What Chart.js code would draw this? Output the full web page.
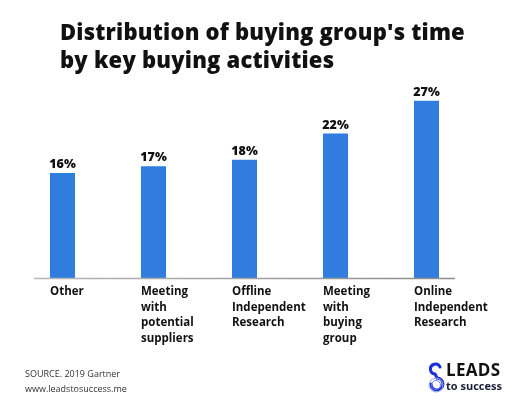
<!DOCTYPE html>
<html>
<head>
<meta charset="utf-8">
<script src="https://cdn.jsdelivr.net/npm/chart.js@4"></script>
<style>
  html, body { margin:0; padding:0; background:#fff; width:524px; height:410px; overflow:hidden; }
  #wrap { position:absolute; left:0; top:0; width:524px; height:410px; }
  #title { position:absolute; left:60px; top:17px; font-family:"Open Sans", sans-serif; font-weight:800; font-size:22px; line-height:28px; color:#111; letter-spacing:0.2px; white-space:nowrap; }
  .src { position:absolute; left:25px; font-family:"Open Sans", sans-serif; font-size:9px; color:#333; }
  #logo { position:absolute; left:427px; top:362px; width:80px; height:34px; }
  #logo .l1 { position:absolute; left:19px; top:-1px; font-family:"Open Sans", sans-serif; font-weight:700; font-size:17px; line-height:18px; color:#111; letter-spacing:0.3px; }
  #logo .l2 { position:absolute; left:19px; top:17px; font-family:"Open Sans", sans-serif; font-weight:700; font-size:11px; line-height:13px; color:#1a1f3a; }
</style>
</head>
<body>
<div id="wrap"><canvas id="c" width="524" height="410"></canvas></div>
<div id="title">Distribution of buying group's time<br>by key buying activities</div>
<div class="src" style="top:367px">SOURCE. 2019 Gartner</div>
<div class="src" style="top:382px">www.leadstosuccess.me</div>
<div id="logo">
  <svg width="18" height="32" viewBox="0 0 18 32" style="position:absolute;left:0;top:0">
    <path d="M13 5 A5 5 0 1 0 8 12 L10 16 A6 6 0 1 1 4 22" fill="none" stroke="#1a2fd6" stroke-width="3" stroke-linecap="round"/>
    <circle cx="9" cy="23" r="7" fill="none" stroke="#9aa6ef" stroke-width="1"/>
    <circle cx="9" cy="23" r="4.5" fill="none" stroke="#6f80ea" stroke-width="1"/>
  </svg>
  <div class="l1">LEADS</div>
  <div class="l2">to success</div>
</div>
<script>
const categories = [
  ["Other"],
  ["Meeting", "with", "potential", "suppliers"],
  ["Offline", "Independent", "Research"],
  ["Meeting", "with", "buying", "group"],
  ["Online", "Independent", "Research"]
];
const values = [16, 17, 18, 22, 27];
const valueLabels = ["16%", "17%", "18%", "22%", "27%"];

const customDraw = {
  id: 'customDraw',
  afterDatasetsDraw(chart) {
    const ctx = chart.ctx;
    const meta = chart.getDatasetMeta(0);
    const area = chart.chartArea;
    // axis line
    ctx.save();
    const grad = ctx.createLinearGradient(area.left, 0, area.right, 0);
    grad.addColorStop(0, '#b8b8b8');
    grad.addColorStop(1, '#8a8a8a');
    ctx.strokeStyle = grad;
    ctx.lineWidth = 1.5;
    ctx.beginPath();
    ctx.moveTo(area.left + 17, area.bottom + 0.5);
    ctx.lineTo(area.right - 17, area.bottom + 0.5);
    ctx.stroke();
    // value labels
    ctx.fillStyle = '#111';
    ctx.font = '800 12.5px "Open Sans", sans-serif';
    ctx.textAlign = 'center';
    ctx.textBaseline = 'alphabetic';
    meta.data.forEach((bar, i) => {
      ctx.fillText(valueLabels[i], bar.x, bar.y - 5);
    });
    // category labels
    ctx.font = '700 11.5px "Open Sans", sans-serif';
    ctx.textAlign = 'left';
    ctx.textBaseline = 'top';
    meta.data.forEach((bar, i) => {
      const left = bar.x - bar.width / 2;
      categories[i].forEach((line, j) => {
        ctx.fillText(line, left, area.bottom + 8 + j * 15.5);
      });
    });
    ctx.restore();
  }
};

new Chart(document.getElementById('c'), {
  type: 'bar',
  data: {
    labels: categories,
    datasets: [{
      data: values,
      backgroundColor: '#317ddf',
      borderWidth: 0,
      barPercentage: 0.55,
      categoryPercentage: 0.5
    }]
  },
  options: {
    responsive: false,
    animation: false,
    events: [],
    layout: { padding: { left: 17, right: 52, top: 81, bottom: 132 } },
    plugins: { legend: { display: false }, tooltip: { enabled: false } },
    scales: {
      x: { display: false },
      y: { display: false, min: 0, max: 30 }
    }
  },
  plugins: [customDraw]
});
</script>
</body>
</html>
